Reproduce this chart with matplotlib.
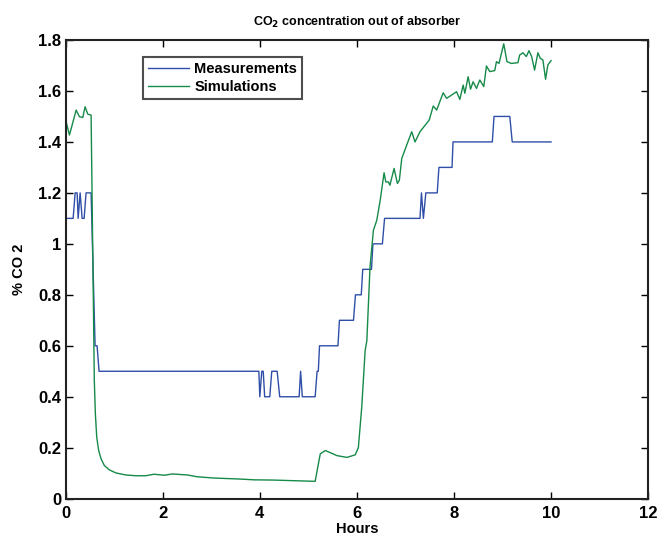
import matplotlib
matplotlib.use('Agg')
import matplotlib.pyplot as plt

plt.rcParams['font.family'] = ['Liberation Sans', 'DejaVu Sans']
plt.rcParams['font.weight'] = 'bold'

# measured CO2 (%), step-like readings
meas_t = [0, 0.154, 0.195, 0.236, 0.257, 0.298, 0.339, 0.38, 0.42, 0.524,
          0.606, 0.647, 0.688, 3.98, 4.0, 4.04, 4.07, 4.10, 4.205, 4.246,
          4.357, 4.41, 4.81, 4.84, 4.875, 5.14, 5.18, 5.205, 5.23, 5.61,
          5.64, 5.93, 5.97, 6.09, 6.12, 6.30, 6.33, 6.525, 6.57, 7.30,
          7.33, 7.37, 7.42, 7.655, 7.69, 7.96, 7.98, 8.79, 8.825, 9.15,
          9.2, 10.0]
meas_v = [1.1, 1.1, 1.2, 1.2, 1.1, 1.2, 1.1, 1.1, 1.2, 1.2,
          0.6, 0.6, 0.5, 0.5, 0.4, 0.5, 0.5, 0.4, 0.4, 0.5,
          0.5, 0.4, 0.4, 0.5, 0.4, 0.4, 0.5, 0.5, 0.6, 0.6,
          0.7, 0.7, 0.8, 0.8, 0.9, 0.9, 1.0, 1.0, 1.1, 1.1,
          1.2, 1.1, 1.2, 1.2, 1.3, 1.3, 1.4, 1.4, 1.5, 1.5,
          1.4, 1.4]

# simulated CO2 (%)
sim_t = [0.0, 0.078, 0.216, 0.283, 0.353, 0.40, 0.456, 0.524, 0.59, 0.612,
         0.64, 0.68, 0.73, 0.797, 0.90, 1.037, 1.24, 1.45, 1.65, 1.82,
         2.03, 2.20, 2.51, 2.71, 3.055, 3.33, 3.60, 3.88, 4.29, 5.14,
         5.245, 5.35, 5.59, 5.795, 5.965, 6.03, 6.10, 6.17, 6.205, 6.27,
         6.34, 6.41, 6.48, 6.56, 6.595, 6.65, 6.68, 6.766, 6.834, 6.875,
         6.924, 7.027, 7.13, 7.197, 7.30, 7.49, 7.573, 7.643, 7.778, 7.848,
         8.053, 8.121, 8.189, 8.224, 8.292, 8.341, 8.394, 8.464, 8.532, 8.614,
         8.669, 8.737, 8.840, 8.875, 8.928, 9.025, 9.092, 9.183, 9.318, 9.353,
         9.421, 9.491, 9.544, 9.60, 9.661, 9.729, 9.778, 9.832, 9.887, 9.934,
         10.0]
sim_v = [1.486, 1.427, 1.525, 1.499, 1.496, 1.538, 1.509, 1.505, 0.464, 0.333,
         0.241, 0.189, 0.156, 0.13, 0.113, 0.101, 0.093, 0.09, 0.09, 0.096,
         0.092, 0.097, 0.093, 0.086, 0.081, 0.079, 0.077, 0.074, 0.073, 0.068,
         0.176, 0.189, 0.169, 0.162, 0.172, 0.20, 0.36, 0.582, 0.62, 0.909,
         1.053, 1.093, 1.171, 1.279, 1.243, 1.243, 1.23, 1.296, 1.237, 1.25,
         1.335, 1.388, 1.44, 1.40, 1.44, 1.486, 1.541, 1.525, 1.593, 1.571,
         1.597, 1.567, 1.623, 1.591, 1.656, 1.607, 1.636, 1.61, 1.643, 1.617,
         1.698, 1.676, 1.68, 1.715, 1.708, 1.785, 1.715, 1.708, 1.711, 1.741,
         1.75, 1.735, 1.758, 1.735, 1.682, 1.75, 1.728, 1.722, 1.646, 1.702,
         1.719]

xticks = [0, 2, 4, 6, 8, 10, 12]
yticks = [0, 0.2, 0.4, 0.6, 0.8, 1.0, 1.2, 1.4, 1.6, 1.8]
ylabels = ['0', '0.2', '0.4', '0.6', '0.8', '1', '1.2', '1.4', '1.6', '1.8']

fig = plt.figure(figsize=(6.58, 5.39), dpi=100)
ax = fig.add_axes([0.0998, 0.0748, 0.8852, 0.851])

ax.plot(meas_t, meas_v, color='#2f4ea8', lw=1.0, label='Measurements')
ax.plot(sim_t, sim_v, color='#168a48', lw=1.0, label='Simulations')

ax.set_xlim(0, 12)
ax.set_ylim(0, 1.8)
ax.set_xticks(xticks)
ax.set_xticklabels([str(t) for t in xticks])
ax.set_yticks(yticks)
ax.set_yticklabels(ylabels)
ax.tick_params(direction='in', top=True, right=True, length=5, width=1,
               labelsize=12)
ax.tick_params(axis='x', pad=5)
ax.tick_params(axis='y', pad=3)
for s in ax.spines.values():
    s.set_linewidth(1.5)
    s.set_color('#222222')

ax.set_title('CO$_\\mathbf{2}$ concentration out of absorber', fontsize=9,
             fontweight='bold', pad=10)
ax.set_xlabel('Hours', fontsize=10.5, fontweight='bold', labelpad=1)
ax.set_ylabel('% CO 2', fontsize=10.5, fontweight='bold', labelpad=9)

leg = ax.legend(loc='upper left', bbox_to_anchor=(0.133, 0.963), fontsize=10.5,
                frameon=True, fancybox=False, borderpad=0.35, handlelength=2.8,
                handletextpad=0.35, labelspacing=0.25, borderaxespad=0)
leg.get_frame().set_edgecolor('#222222')
leg.get_frame().set_linewidth(1.5)

fig.savefig('out.png', dpi=100)
